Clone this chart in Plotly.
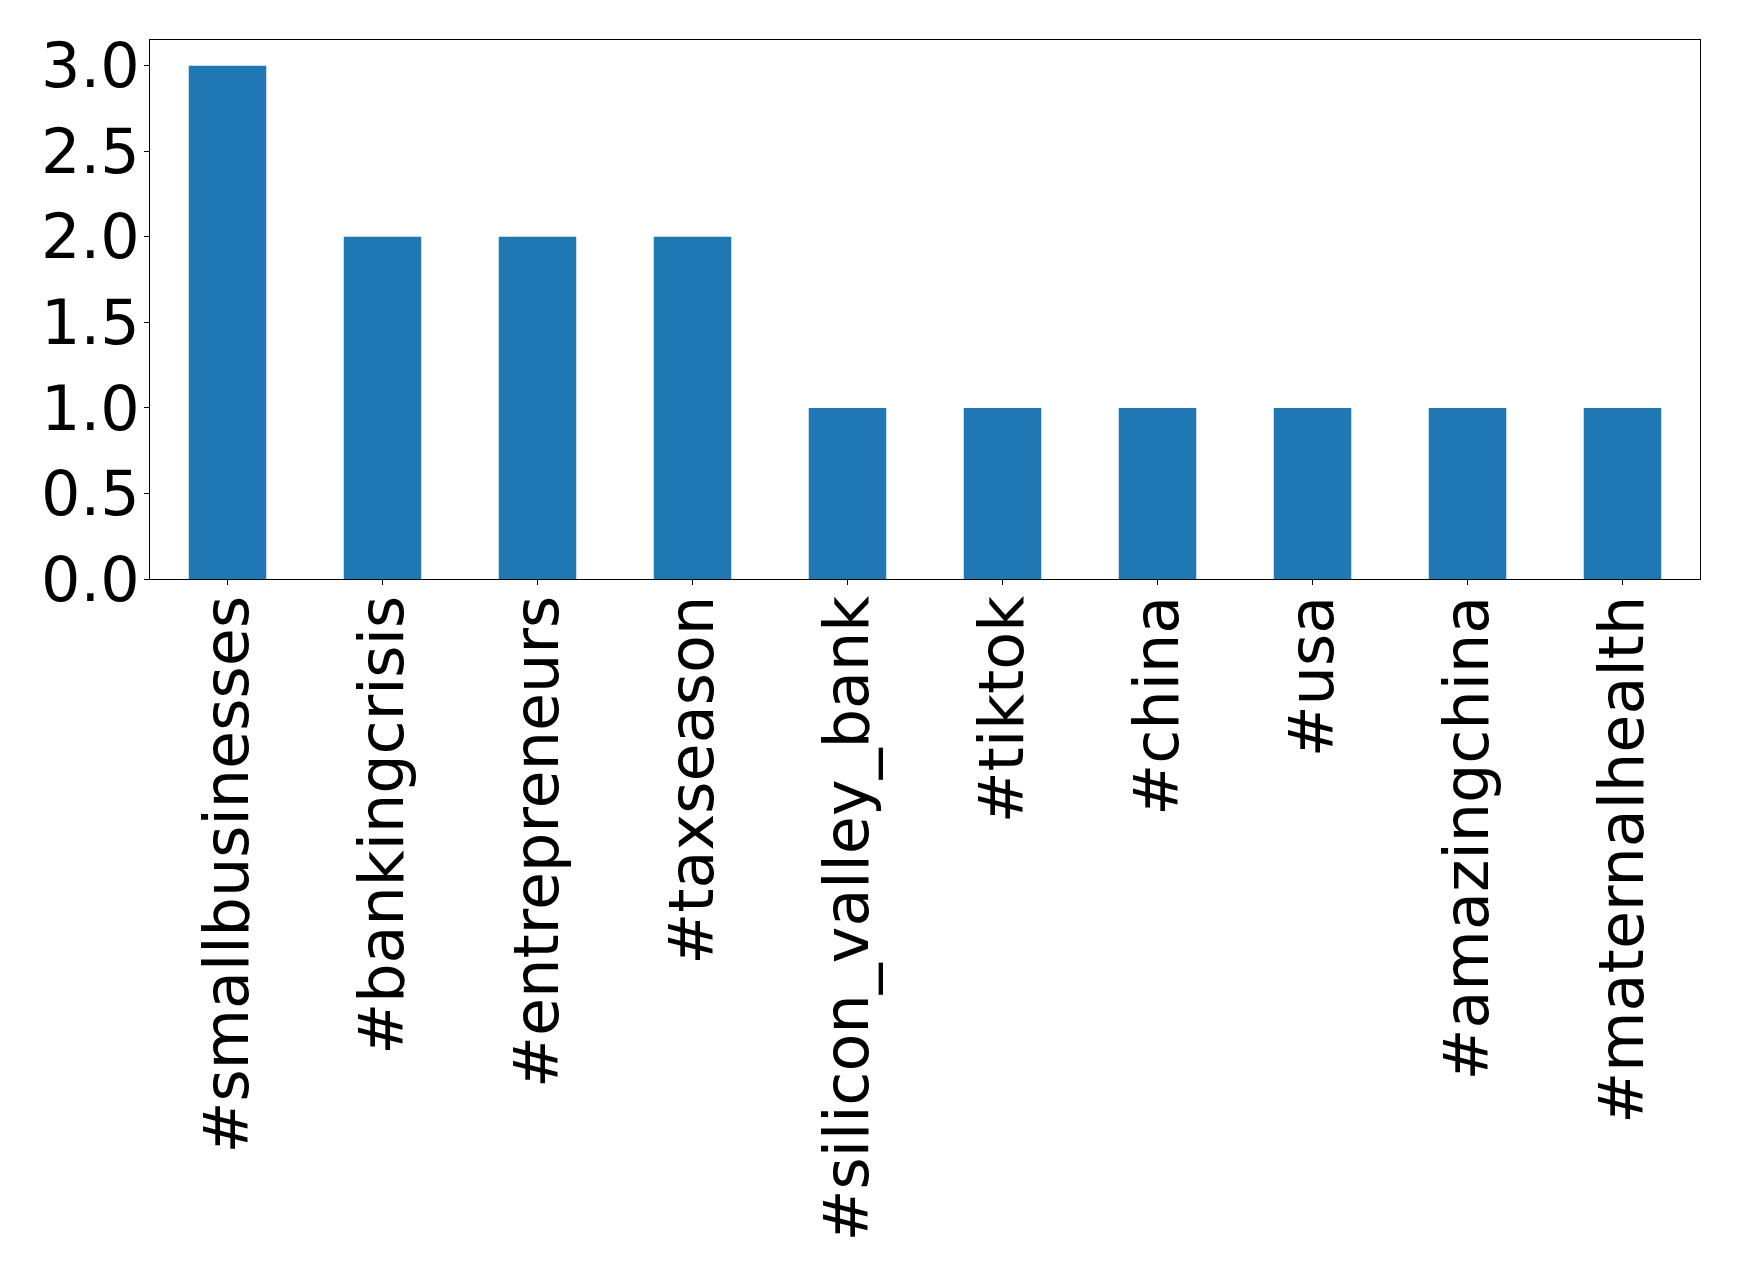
import plotly.graph_objects as go

categories = ["#smallbusinesses", "#bankingcrisis", "#entrepreneurs", "#taxseason",
              "#silicon_valley_bank", "#tiktok", "#china", "#usa", "#amazingchina",
              "#maternalhealth"]
counts = [3, 2, 2, 2, 1, 1, 1, 1, 1, 1]
y_ticks = [0.0, 0.5, 1.0, 1.5, 2.0, 2.5, 3.0]

fig = go.Figure(go.Bar(x=list(range(len(categories))), y=counts, width=0.5,
                       marker=dict(color="#1f77b4", line=dict(width=0))))

font = dict(family="DejaVu Sans", size=62, color="black")
fig.update_layout(
    width=1739, height=1279,
    margin=dict(l=142, r=47, t=32, b=708),
    paper_bgcolor="white", plot_bgcolor="white",
    showlegend=False,
    font=font,
)
fig.update_xaxes(
    range=[-0.5, len(categories) - 0.5],
    tickmode="array", tickvals=list(range(len(categories))), ticktext=categories,
    tickangle=-90, ticks="outside", ticklen=5, tickwidth=1, tickcolor="black",
    showline=True, linecolor="black", linewidth=1, mirror=True,
    showgrid=False, zeroline=False, tickfont=font, automargin=False,
    ticklabelstandoff=-14,
)
fig.update_yaxes(
    range=[0, 3.15],
    tickmode="array", tickvals=y_ticks, ticktext=[f"{v:.1f}" for v in y_ticks],
    ticks="outside", ticklen=5, tickwidth=1, tickcolor="black",
    showline=True, linecolor="black", linewidth=1, mirror=True,
    showgrid=False, zeroline=False, tickfont=font, automargin=False,
    ticklabelstandoff=-8,
)
fig.write_html("out.html")
